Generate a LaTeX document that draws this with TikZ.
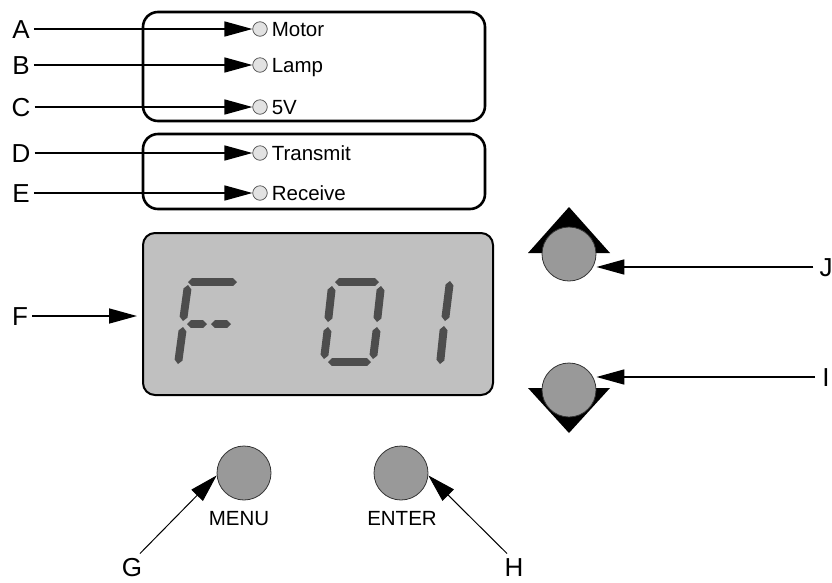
\documentclass[tikz,border=0pt]{standalone}
\usepackage{fontspec}
\setmainfont{Liberation Sans}
\usetikzlibrary{calc,arrows.meta}

\definecolor{lcdbg}{HTML}{C0C0C0}
\definecolor{lcdseg}{HTML}{4D4D4D}
\definecolor{btngray}{HTML}{999999}
\definecolor{ledgray}{HTML}{E2E2E2}

% one pointed LCD segment between two end points
\newcommand{\lcdseg}[2]{%
  \fill[lcdseg] (#1) -- ($(#1)!5.6pt!45:(#2)$) -- ($(#2)!5.6pt!-45:(#1)$)
    -- (#2) -- ($(#2)!5.6pt!45:(#1)$) -- ($(#1)!5.6pt!-45:(#2)$) -- cycle;}

\tikzset{
  letter/.style={font=\fontsize{26}{31}\selectfont, inner sep=0pt, text height=18.6pt, text depth=0pt},
  ledtext/.style={font=\fontsize{20.5}{25}\selectfont, inner sep=0pt, text height=14.7pt, text depth=0pt, anchor=west},
  led/.style={circle, draw=black!70, line width=0.7pt, fill=ledgray, minimum size=14.5pt, inner sep=0pt},
  panel/.style={draw=black, line width=2.6pt, rounded corners=15pt},
  button/.style={circle, draw=black!80, line width=0.8pt, fill=btngray, minimum size=54pt, inner sep=0pt},
  btntext/.style={font=\fontsize{20.5}{24}\selectfont, inner sep=0pt, text height=14.7pt, text depth=0pt},
  callout/.style={line width=1.6pt, -{Triangle[length=28pt,width=15pt]}},
  thincallout/.style={line width=1pt, -{Triangle[length=28pt,width=16pt]}},
}

\begin{document}
\begin{tikzpicture}[x=1pt, y=-1pt]
\useasboundingbox (0,0) rectangle (832,582);

% indicator panels
\draw[panel] (143,12) rectangle (485,121);
\draw[panel] (143,134) rectangle (485,209);

% LEDs and their texts
\node[led] (led1) at (260,29) {};
\node[led] (led2) at (260,65) {};
\node[led] (led3) at (260,107) {};
\node[led] (led4) at (260,153) {};
\node[led] (led5) at (260,193) {};
\node[ledtext] (t1) at ([xshift=4pt]led1.east) {Motor};
\node[ledtext] (t2) at ([xshift=4pt]led2.east) {Lamp};
\node[ledtext] (t3) at ([xshift=4pt]led3.east) {5V};
\node[ledtext] (t4) at ([xshift=4pt]led4.east) {Transmit};
\node[ledtext] (t5) at ([xshift=4pt]led5.east) {Receive};

% left letters
\node[letter] (la) at (21,29) {A};
\node[letter] (lb) at (21,65) {B};
\node[letter] (lc) at (21,107) {C};
\node[letter] (ld) at (21,153) {D};
\node[letter] (le) at (21,193) {E};
\node[letter] (lf) at (20,316) {F};

\draw[callout] ([xshift=4pt]la.east) -- (led1.west);
\draw[callout] ([xshift=4pt]lb.east) -- (led2.west);
\draw[callout] ([xshift=4pt]lc.east) -- (led3.west);
\draw[callout] ([xshift=4pt]ld.east) -- (led4.west);
\draw[callout] ([xshift=4pt]le.east) -- (led5.west);

% LCD display
\node[draw=black, line width=2pt, rounded corners=12pt, fill=lcdbg,
      minimum width=350pt, minimum height=162pt, inner sep=0pt] (lcd) at (318,314) {};
\draw[callout, shorten >=5pt] ([xshift=4pt]lf.east) -- (lf.east -| lcd.west);

% F
\lcdseg{188,282}{237,282}
\lcdseg{188,285}{183,321}
\lcdseg{187,324}{207,324}
\lcdseg{211,324}{231,324}
\lcdseg{183,327}{178,364}
% 0
\lcdseg{335,282}{379,282}
\lcdseg{332,286}{328,322}
\lcdseg{381,286}{377,322}
\lcdseg{328,327}{324,359}
\lcdseg{377,327}{373,359}
\lcdseg{328,362}{371,362}
% 1
\lcdseg{450,281}{445,321}
\lcdseg{444,326}{440,364}

% up / down buttons
\fill (569,207) -- (610,253) -- (528,253) -- cycle;
\fill (528,388) -- (610,388) -- (569,433) -- cycle;
\node[button] (upbtn) at (569,254) {};
\node[button] (dnbtn) at (569,390) {};
\node[letter] (lj) at (826,267) {J};
\node[letter] (li) at (826,377) {I};
\draw[callout] ([xshift=-6pt]lj.west) -- (lj.west -| upbtn.east);
\draw[callout] ([xshift=-7pt]li.west) -- (li.west -| dnbtn.east);

% menu / enter buttons
\node[button] (menu) at (244,473) {};
\node[button] (enter) at (401,473) {};
\node[btntext] (tmenu) at (239,518) {MENU};
\node[btntext] (tenter) at (402,518) {ENTER};
\node[letter] (lg) at (132,567) {G};
\node[letter] (lh) at (514,567) {H};
\draw[thincallout] ([shift={(8pt,4pt)}]lg.north) -- (menu.185);
\draw[thincallout] ([shift={(-7pt,4pt)}]lh.north) -- (enter.-5);
\end{tikzpicture}
\end{document}
